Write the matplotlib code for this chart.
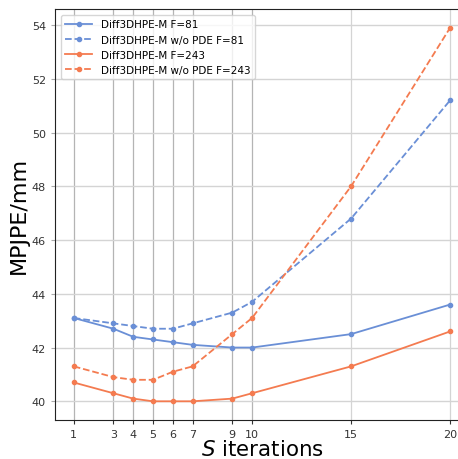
import matplotlib
matplotlib.use("Agg")
import matplotlib.pyplot as plt

iters = [1, 3, 4, 5, 6, 7, 9, 10, 15, 20]
f81 = [43.1, 42.7, 42.4, 42.3, 42.2, 42.1, 42.0, 42.0, 42.5, 43.6]
f81_wo = [43.1, 42.9, 42.8, 42.7, 42.7, 42.9, 43.3, 43.7, 46.8, 51.2]
f243 = [40.7, 40.3, 40.1, 40.0, 40.0, 40.0, 40.1, 40.3, 41.3, 42.6]
f243_wo = [41.3, 40.9, 40.8, 40.8, 41.1, 41.3, 42.5, 43.1, 48.0, 53.9]
labels = ["Diff3DHPE-M F=81", "Diff3DHPE-M w/o PDE F=81",
          "Diff3DHPE-M F=243", "Diff3DHPE-M w/o PDE F=243"]
yticks = [40, 42, 44, 46, 48, 50, 52, 54]

blue = "#6a8fd6"
orange = "#f47b50"

fig = plt.figure(figsize=(4.58, 4.60), dpi=100)
ax = fig.add_axes([0.120, 0.0848, 0.904, 0.8935])

ax.grid(True, axis="y", color="#d4d4d4", linewidth=1.0)
for i, x in enumerate(iters):
    ax.axvline(x, color="#b4b4b4" if i < 8 else "#d4d4d4", linewidth=0.9, zorder=0.5)
ax.set_axisbelow(True)

ax.plot(iters, f81, "-o", color=blue, markersize=3, linewidth=1.3, label=labels[0])
ax.plot(iters, f81_wo, "--o", color=blue, markersize=3, linewidth=1.3, label=labels[1])
ax.plot(iters, f243, "-o", color=orange, markersize=3, linewidth=1.3, label=labels[2])
ax.plot(iters, f243_wo, "--o", color=orange, markersize=3, linewidth=1.3, label=labels[3])

ax.set_xticks(iters)
ax.set_yticks(yticks)
ax.tick_params(axis="both", labelsize=8, labelcolor="#333333", color="#aaaaaa", length=3)
ax.tick_params(axis="x", color="#333333")
for s in ["left", "bottom", "top"]:
    ax.spines[s].set_color("#222222")

ax.set_xlabel("$S$ iterations", fontsize=15.4, labelpad=0)
ax.set_ylabel("MPJPE/mm", fontsize=16, labelpad=2)

ax.legend(loc="upper left", fontsize=7.5, framealpha=0.8, edgecolor="#cccccc",
          handlelength=2.6, borderaxespad=0.6)

fig.savefig("out.png", dpi=100)
